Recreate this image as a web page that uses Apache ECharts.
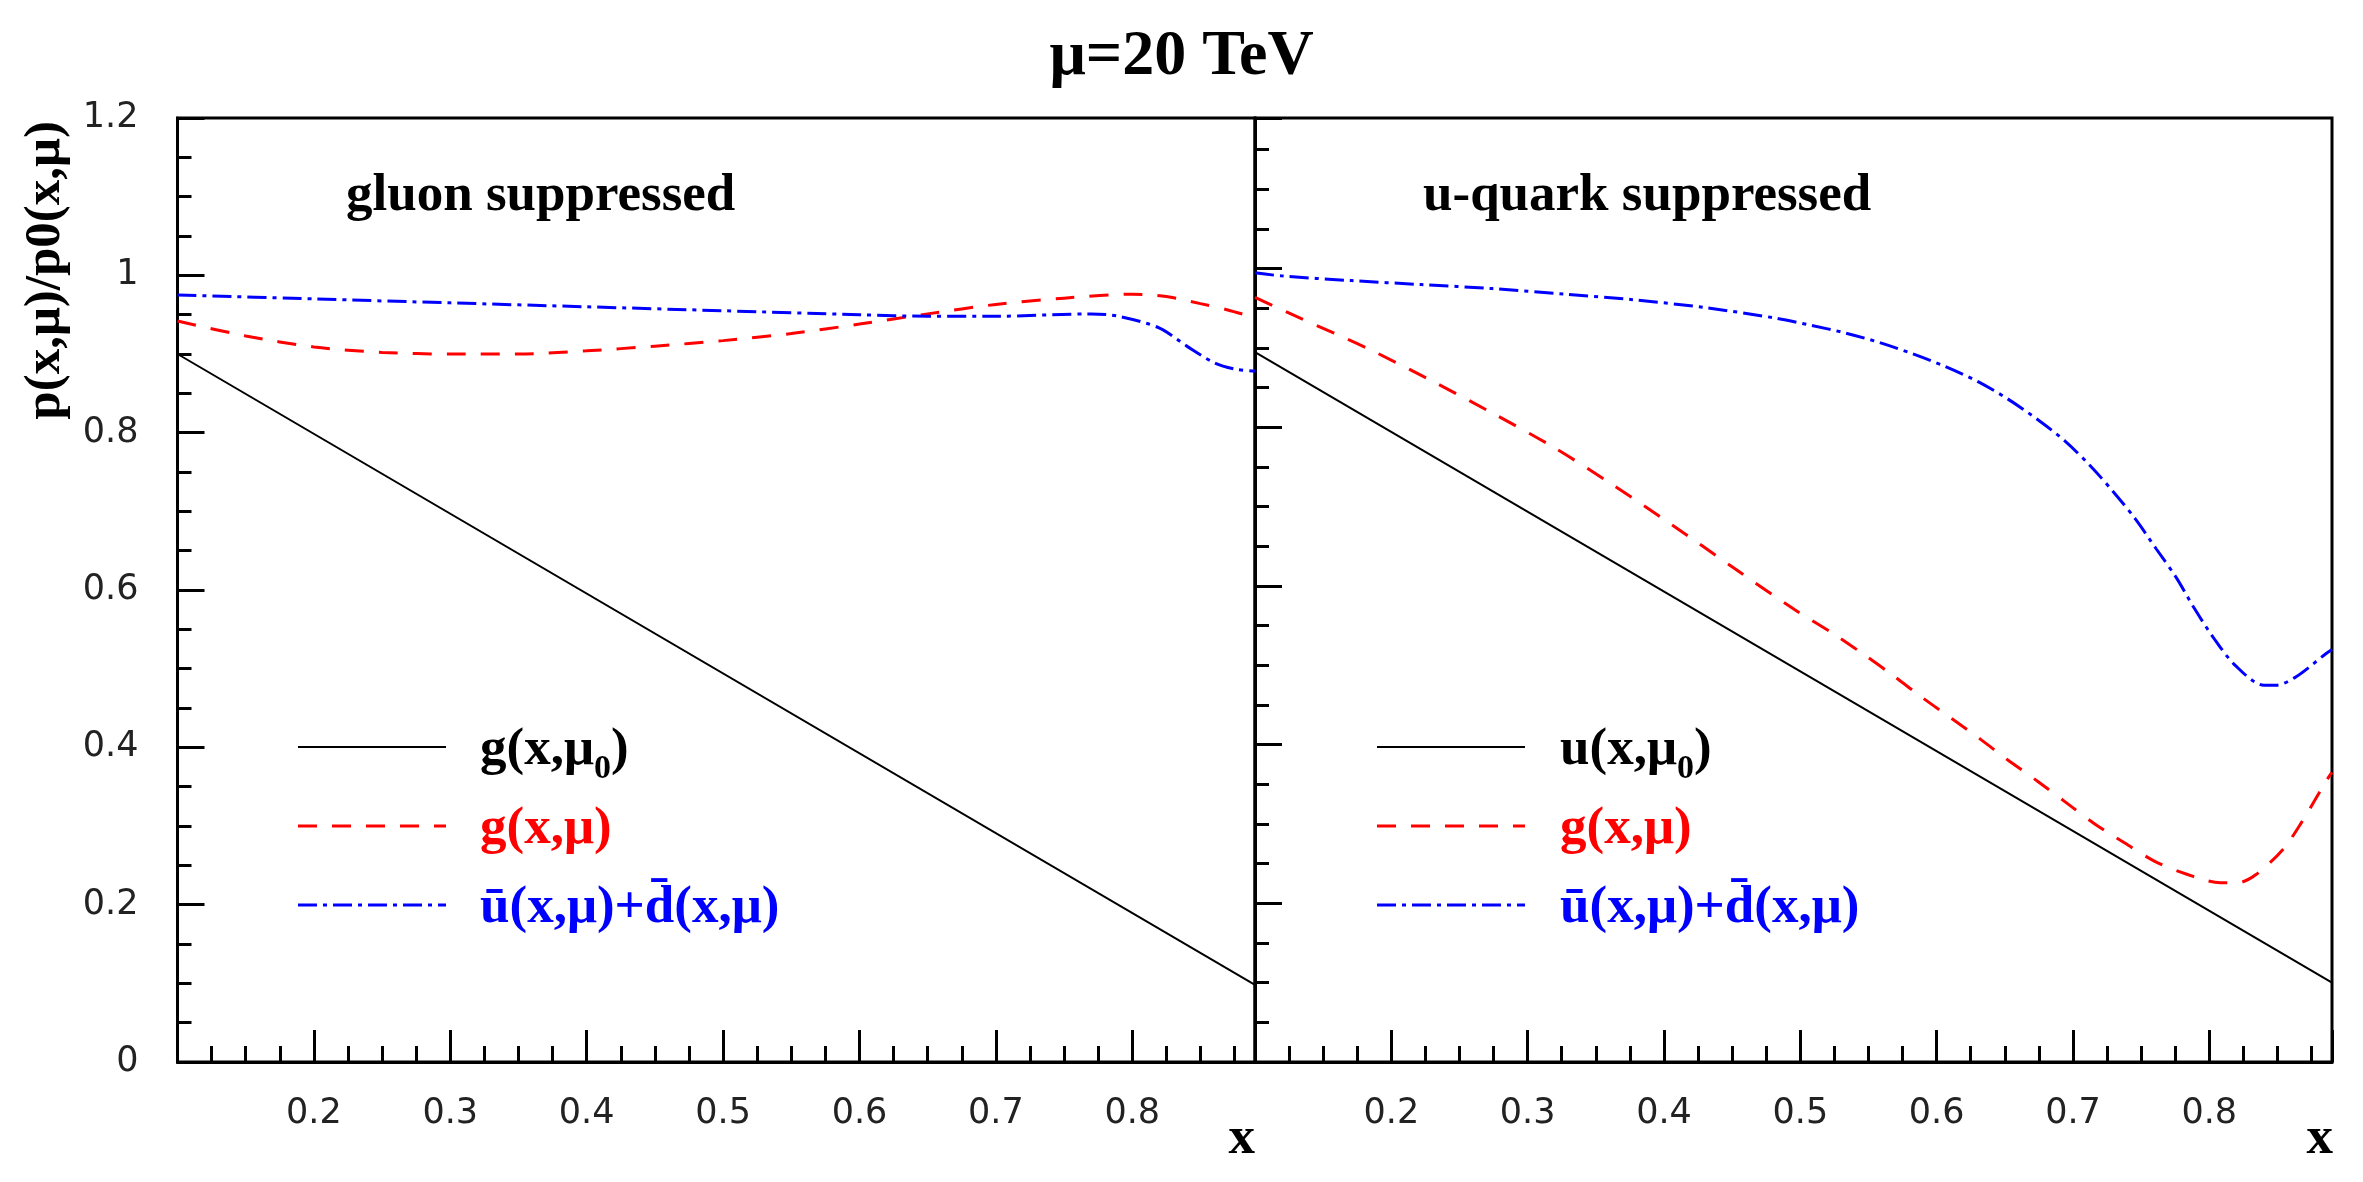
<!DOCTYPE html>
<html>
<head>
<meta charset="utf-8">
<script src="https://cdn.jsdelivr.net/npm/echarts@6/dist/echarts.min.js"></script>
<style>
  html, body { margin: 0; padding: 0; background: #fff; }
  #chart { width: 2363px; height: 1182px; }
</style>
</head>
<body>
<div id="chart"></div>
<script>
// straight reference lines are sampled at both ends of the x range
const lineX = [0.1, 0.89]

// left panel: gluon suppressed
const gSupG0 = [0.900, 0.098]
const gSupGluonX = [0.10, 0.15, 0.20, 0.25, 0.30, 0.35, 0.40, 0.45, 0.50, 0.55, 0.60, 0.65, 0.70, 0.75, 0.80, 0.825, 0.85, 0.87, 0.89]
const gSupGluon = [0.942, 0.923, 0.909, 0.902, 0.900, 0.900, 0.904, 0.910, 0.917, 0.926, 0.938, 0.951, 0.963, 0.971, 0.976, 0.973, 0.964, 0.956, 0.946]
const gSupSeaX = [0.10, 0.20, 0.30, 0.40, 0.50, 0.60, 0.65, 0.70, 0.77, 0.79, 0.82, 0.84, 0.86, 0.875, 0.89]
const gSupSea = [0.975, 0.970, 0.965, 0.960, 0.955, 0.950, 0.948, 0.948, 0.951, 0.948, 0.933, 0.910, 0.889, 0.881, 0.878]

// right panel: u-quark suppressed
const uSupU0 = [0.895, 0.100]
const uSupGluonX = [0.10, 0.134, 0.182, 0.227, 0.272, 0.318, 0.363, 0.406, 0.451, 0.496, 0.526, 0.548, 0.569, 0.589, 0.611, 0.632, 0.652, 0.674, 0.695, 0.716, 0.738, 0.760, 0.783, 0.808, 0.821, 0.834, 0.854, 0.868, 0.886, 0.89]
const uSupGluon = [0.964, 0.937, 0.900, 0.861, 0.820, 0.776, 0.727, 0.677, 0.623, 0.570, 0.538, 0.512, 0.486, 0.460, 0.433, 0.407, 0.381, 0.354, 0.327, 0.300, 0.276, 0.253, 0.237, 0.226, 0.226, 0.236, 0.268, 0.303, 0.355, 0.365]
const uSupSeaX = [0.10, 0.119, 0.171, 0.222, 0.274, 0.327, 0.377, 0.430, 0.481, 0.507, 0.533, 0.558, 0.582, 0.606, 0.630, 0.652, 0.674, 0.694, 0.713, 0.730, 0.746, 0.761, 0.776, 0.789, 0.803, 0.819, 0.840, 0.849, 0.864, 0.885, 0.89]
const uSupSea = [0.995, 0.991, 0.985, 0.980, 0.975, 0.968, 0.961, 0.951, 0.938, 0.929, 0.919, 0.907, 0.893, 0.877, 0.858, 0.836, 0.810, 0.783, 0.751, 0.718, 0.684, 0.647, 0.610, 0.572, 0.535, 0.500, 0.475, 0.475, 0.486, 0.514, 0.520]

const serif = 'Liberation Serif'
const sans = 'DejaVu Sans'
const RED = '#ff0000'
const BLUE = '#0000ff'
const DASH = [19, 15]
const DASH_DOT = [19, 6, 4, 6]

const zip = (xs, ys) => xs.map((x, i) => [x, ys[i]])

const tickStyle = { color: '#000', width: 3 }

function xAxisFor (gridIndex) {
  return {
    type: 'value',
    gridIndex,
    min: 0.1,
    max: 0.89,
    interval: 0.1,
    axisLine: { lineStyle: tickStyle },
    axisTick: { inside: true, length: 32, lineStyle: tickStyle },
    minorTick: { show: true, splitNumber: 4, length: 16, lineStyle: tickStyle },
    splitLine: { show: false },
    axisLabel: {
      margin: 34,
      fontFamily: sans,
      fontSize: 35,
      color: '#222',
      showMinLabel: false,
      showMaxLabel: false,
      formatter: v => (v > 0.15 && v < 0.85 ? v.toFixed(1) : '')
    }
  }
}

function yAxisFor (gridIndex, max, showLabels) {
  return {
    type: 'value',
    gridIndex,
    min: 0,
    max,
    interval: 0.2,
    axisLine: { lineStyle: tickStyle },
    axisTick: { inside: true, length: 27, lineStyle: tickStyle },
    minorTick: { show: true, splitNumber: 4, length: 14, lineStyle: tickStyle },
    splitLine: { show: false },
    axisLabel: {
      show: showLabels,
      margin: 39,
      fontFamily: sans,
      fontSize: 35,
      color: '#222'
    }
  }
}

function curve (name, idx, data, color, width, dash) {
  return {
    name,
    type: 'line',
    xAxisIndex: idx,
    yAxisIndex: idx,
    data,
    smooth: 0.3,
    symbol: 'none',
    silent: true,
    lineStyle: { color, width, type: dash || 'solid' }
  }
}

// legend rows (graphic), one block per panel
const legendRich = {
  m: { fontFamily: serif, fontWeight: 'bold', fontSize: 53, lineHeight: 72 },
  s: { fontFamily: serif, fontWeight: 'bold', fontSize: 34, lineHeight: 26, verticalAlign: 'bottom' }
}

function legendBlock (x0, textX, firstLabel) {
  const rows = [
    { y: 747, color: '#000', width: 2, dash: null, text: firstLabel },
    { y: 826, color: RED, width: 3, dash: DASH, text: '{m|g(x,μ)}' },
    { y: 905, color: BLUE, width: 3, dash: DASH_DOT, text: '{m|ū(x,μ)+d̄(x,μ)}' }
  ]
  const els = []
  rows.forEach(r => {
    els.push({
      type: 'line',
      shape: { x1: x0, y1: r.y, x2: x0 + 148, y2: r.y },
      style: { stroke: r.color, lineWidth: r.width, lineDash: r.dash }
    })
    els.push({
      type: 'text',
      x: textX,
      y: r.y + 3,
      style: { text: r.text, rich: legendRich, fill: r.color, align: 'left', verticalAlign: 'middle' }
    })
  })
  return els
}

const labelFont = `bold 53px "${serif}"`

const chart = echarts.init(document.getElementById('chart'), null, { renderer: 'canvas' })
chart.setOption({
  animation: false,
  backgroundColor: '#fff',
  title: {
    text: 'μ=20 TeV',
    left: 'center',
    top: 20,
    textStyle: { fontFamily: serif, fontWeight: 'bold', fontSize: 64, color: '#000' }
  },
  grid: [
    { left: 177.5, top: 118, width: 1077.5, height: 944, show: true, borderColor: '#000', borderWidth: 3, containLabel: false, outerBoundsMode: 'none' },
    { left: 1255, top: 118, width: 1077, height: 944, show: true, borderColor: '#000', borderWidth: 3, containLabel: false, outerBoundsMode: 'none' }
  ],
  xAxis: [xAxisFor(0), xAxisFor(1)],
  yAxis: [yAxisFor(0, 1.2, true), yAxisFor(1, 1.19, false)],
  series: [
    curve('g(x,μ0)', 0, zip(lineX, gSupG0), '#000', 2),
    curve('g(x,μ)', 0, zip(gSupGluonX, gSupGluon), RED, 3, DASH),
    curve('ubar+dbar', 0, zip(gSupSeaX, gSupSea), BLUE, 3, DASH_DOT),
    curve('u(x,μ0)', 1, zip(lineX, uSupU0), '#000', 2),
    curve('g(x,μ) ', 1, zip(uSupGluonX, uSupGluon), RED, 3, DASH),
    curve('ubar+dbar ', 1, zip(uSupSeaX, uSupSea), BLUE, 3, DASH_DOT)
  ],
  graphic: [
    {
      type: 'text',
      x: 46,
      y: 121,
      rotation: Math.PI / 2,
      style: { text: 'p(x,μ)/p0(x,μ)', font: `bold 51px "${serif}"`, fill: '#000', align: 'right', verticalAlign: 'middle' }
    },
    { type: 'text', x: 346, y: 196, style: { text: 'gluon suppressed', font: labelFont, fill: '#000', align: 'left', verticalAlign: 'middle' } },
    { type: 'text', x: 1423, y: 196, style: { text: 'u-quark suppressed', font: labelFont, fill: '#000', align: 'left', verticalAlign: 'middle' } },
    { type: 'text', x: 1255, y: 1139, style: { text: 'x', font: labelFont, fill: '#000', align: 'right', verticalAlign: 'middle' } },
    { type: 'text', x: 2333, y: 1139, style: { text: 'x', font: labelFont, fill: '#000', align: 'right', verticalAlign: 'middle' } },
    ...legendBlock(298, 480, '{m|g(x,μ}{s|0}{m|)}'),
    ...legendBlock(1377, 1560, '{m|u(x,μ}{s|0}{m|)}')
  ]
})
</script>
</body>
</html>
